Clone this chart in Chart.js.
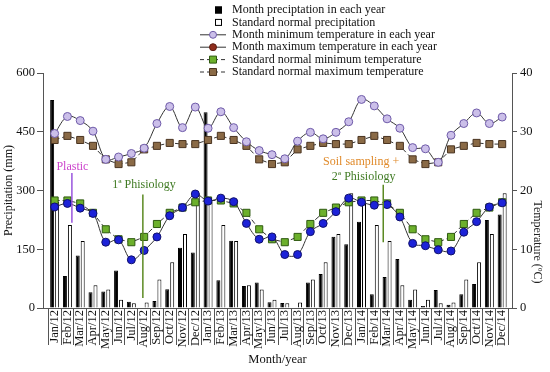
<!DOCTYPE html>
<html>
<head>
<meta charset="utf-8">
<script src="https://cdn.jsdelivr.net/npm/chart.js@4"></script>
<style>
  html, body { margin: 0; padding: 0; background: #fff; }
  #wrap { width: 550px; height: 372px; }
</style>
</head>
<body>
<div id="wrap"><canvas id="chart" width="550" height="372"></canvas></div>
<script>
// ----------------------------
// data
// ----------------------------
const months = [
  'Jan/12','Feb/12','Mar/12','Apr/12','May/12','Jun/12','Jul/12','Aug/12','Sep/12','Oct/12','Nov/12','Dec/12',
  'Jan/13','Feb/13','Mar/13','Apr/13','May/13','Jun/13','Jul/13','Aug/13','Sep/13','Oct/13','Nov/13','Dec/13',
  'Jan/14','Feb/14','Mar/14','Apr/14','May/14','Jun/14','Jul/14','Aug/14','Sep/14','Oct/14','Nov/14','Dec/14'
];

// precipitation (mm), left axis
const precipMonth = [
  531, 82, 134, 40, 42, 96, 16, 0, 18, 48, 154, 142,
  500, 71, 172, 56, 65, 15, 13, 1, 65, 87, 182, 163,
  220, 35, 79, 125, 21, 5, 46, 8, 35, 61, 225, 239
];
const precipNormal = [
  271, 212, 171, 58, 47, 21, 12, 14, 73, 117, 189, 293,
  271, 212, 171, 58, 47, 21, 12, 14, 73, 117, 189, 293,
  271, 212, 171, 58, 47, 21, 12, 14, 73, 117, 189, 293
];

// temperature (ºC), right axis
const tempMinMonth = [
  29.7, 32.6, 31.9, 30.1, 25.3, 25.7, 26.3, 27.2, 31.4, 34.3, 30.7, 34.2,
  30.6, 33.4, 30.7, 28.3, 26.8, 26.1, 25.4, 28.4, 29.9, 28.8, 29.9, 31.7,
  35.5, 34.4, 32.2, 30.6, 27.3, 27.1, 24.8, 29.4, 31.4, 33.2, 31.4, 32.5
];
const tempMaxMonth = [
  17.2, 17.8, 17.0, 16.1, 11.2, 11.6, 8.2, 9.8, 12.1, 15.7, 17.1, 19.4,
  18.2, 18.7, 18.1, 14.4, 11.7, 12.1, 9.1, 9.1, 13.0, 14.4, 16.4, 18.7,
  18.0, 17.5, 17.6, 15.5, 11.0, 10.6, 9.9, 9.7, 12.9, 14.7, 17.2, 17.9
];
const tempMinNormal = [
  18.3, 18.3, 17.8, 16.2, 13.4, 11.7, 11.2, 12.1, 14.3, 16.2, 17.1, 18.0,
  18.3, 18.3, 17.8, 16.2, 13.4, 11.7, 11.2, 12.1, 14.3, 16.2, 17.1, 18.0,
  18.3, 18.3, 17.8, 16.2, 13.4, 11.7, 11.2, 12.1, 14.3, 16.2, 17.1, 18.0
];
const tempMaxNormal = [
  28.6, 29.3, 28.6, 27.6, 25.3, 24.5, 24.8, 27.0, 27.6, 28.1, 27.9, 27.9,
  28.6, 29.3, 28.6, 27.6, 25.3, 24.5, 24.8, 27.0, 27.6, 28.1, 27.9, 27.9,
  28.6, 29.3, 28.6, 27.6, 25.3, 24.5, 24.8, 27.0, 27.6, 28.1, 27.9, 27.9
];

const precipTicks = [0, 150, 300, 450, 600];
const tempTicks = [0, 10, 20, 30, 40];

// event notes, positioned in month index / temperature units
const notes = [
  { text: 'Plastic', color: '#cc44cc', line: '#9955dd', tx: 1.39, ty: 24.0, at: 1.35, from: 23.0, to: 14.5 },
  { text: '1ª Phisiology', color: '#3f7a22', line: '#5b8a22', tx: 6.99, ty: 20.9, at: 6.9, from: 19.3, to: 1.7 },
  { text: 'Soil sampling +', color: '#e08a2a', line: null, tx: 23.97, ty: 24.9 },
  { text: '2ª Phisiology', color: '#3f7a22', line: '#5b8a22', tx: 24.17, ty: 22.3, at: 25.7, from: 21.0, to: 11.2 }
];

const FONT = "'Liberation Serif', 'Times New Roman', serif";
const pts = arr => arr.map((v, i) => ({ x: i, y: v }));

// ----------------------------
// legend drawn by hand (single column, top middle)
// ----------------------------
const legendRows = [
  { kind: 'box', fill: '#000', stroke: '#000' },
  { kind: 'box', fill: '#fff', stroke: '#000' },
  { kind: 'circle', fill: '#cbbfe9', stroke: '#6e5aa8', dash: [] },
  { kind: 'circle', fill: '#8f2d1c', stroke: '#5a1a10', dash: [] },
  { kind: 'square', fill: '#6cb02c', stroke: '#2f5a10', dash: [4, 3] },
  { kind: 'square', fill: '#8a6a46', stroke: '#4a3420', dash: [4, 3] }
];

const legendPlugin = {
  id: 'handLegend',
  afterDraw(chart) {
    const ctx = chart.ctx;
    ctx.save();
    ctx.font = '12px ' + FONT;
    ctx.textBaseline = 'middle';
    chart.data.datasets.forEach((ds, i) => {
      const st = legendRows[i];
      const y = 10 + i * 12.4;
      if (st.kind === 'box') {
        ctx.fillStyle = st.fill;
        ctx.strokeStyle = st.stroke;
        ctx.lineWidth = 1;
        ctx.fillRect(215, y - 3.5, 7, 7);
        ctx.strokeRect(215.5, y - 3, 6, 6);
      } else {
        ctx.strokeStyle = '#333';
        ctx.lineWidth = 1;
        ctx.setLineDash(st.dash);
        ctx.beginPath();
        ctx.moveTo(200, y);
        ctx.lineTo(226, y);
        ctx.stroke();
        ctx.setLineDash([]);
        ctx.fillStyle = st.fill;
        ctx.strokeStyle = st.stroke;
        ctx.beginPath();
        if (st.kind === 'circle') ctx.arc(213, y, 3.5, 0, Math.PI * 2);
        else ctx.rect(209.5, y - 3.5, 7, 7);
        ctx.fill();
        ctx.stroke();
      }
      ctx.fillStyle = '#111';
      ctx.textAlign = 'left';
      ctx.fillText(ds.label, 232, y);
    });
    ctx.restore();
  }
};

// ----------------------------
// notes + right axis title
// ----------------------------
const notesPlugin = {
  id: 'notes',
  afterDatasetsDraw(chart) {
    const ctx = chart.ctx;
    const x = chart.scales.x, t = chart.scales.y1;
    ctx.save();
    ctx.font = '12px ' + FONT;
    ctx.textAlign = 'center';
    ctx.textBaseline = 'middle';
    notes.forEach(n => {
      if (n.line) {
        const px = x.getPixelForValue(n.at);
        ctx.strokeStyle = n.line;
        ctx.lineWidth = 1.5;
        ctx.beginPath();
        ctx.moveTo(px, t.getPixelForValue(n.from));
        ctx.lineTo(px, t.getPixelForValue(n.to));
        ctx.stroke();
      }
      ctx.fillStyle = n.color;
      ctx.fillText(n.text, x.getPixelForValue(n.tx), t.getPixelForValue(n.ty));
    });
    ctx.restore();
  },
  afterDraw(chart) {
    const ctx = chart.ctx;
    ctx.save();
    ctx.font = '12px ' + FONT;
    ctx.fillStyle = '#222';
    ctx.textAlign = 'center';
    ctx.textBaseline = 'middle';
    ctx.translate(537.5, 242);
    ctx.rotate(Math.PI / 2);
    ctx.fillText('Temperature (ºC)', 0, 0);
    ctx.restore();
  }
};

// ----------------------------
// chart
// ----------------------------
const ctx = document.getElementById('chart');
new Chart(ctx, {
  data: {
    datasets: [
      {
        type: 'bar', label: 'Month preciptation in each year', data: pts(precipMonth), yAxisID: 'y',
        backgroundColor: '#000', borderColor: '#000', borderWidth: 1, order: 5,
        categoryPercentage: 0.78, barPercentage: 0.8
      },
      {
        type: 'bar', label: 'Standard normal precipitation', data: pts(precipNormal), yAxisID: 'y',
        backgroundColor: '#fff', borderColor: '#000', borderWidth: 1, order: 5,
        categoryPercentage: 0.78, barPercentage: 0.8
      },
      {
        type: 'line', label: 'Month minimum temperature in each year', data: pts(tempMinMonth), yAxisID: 'y1',
        borderColor: '#333', borderWidth: 1, tension: 0.35, order: 1,
        pointRadius: 4, pointBackgroundColor: '#cbbfe9', pointBorderColor: '#6e5aa8', pointBorderWidth: 1
      },
      {
        type: 'line', label: 'Month maximum temperature in each year', data: pts(tempMaxMonth), yAxisID: 'y1',
        borderColor: '#333', borderWidth: 1, tension: 0.35, order: 1,
        pointRadius: 4, pointBackgroundColor: '#1c22d8', pointBorderColor: '#10106a', pointBorderWidth: 1
      },
      {
        type: 'line', label: 'Standard normal minimum temperature', data: pts(tempMinNormal), yAxisID: 'y1',
        borderColor: '#333', borderWidth: 1, borderDash: [5, 3], tension: 0, order: 2,
        pointStyle: 'rect', pointRadius: 5, pointBackgroundColor: '#6cb02c', pointBorderColor: '#2f5a10', pointBorderWidth: 1
      },
      {
        type: 'line', label: 'Standard normal maximum temperature', data: pts(tempMaxNormal), yAxisID: 'y1',
        borderColor: '#333', borderWidth: 1, borderDash: [5, 3], tension: 0, order: 2,
        pointStyle: 'rect', pointRadius: 5, pointBackgroundColor: '#8a6a46', pointBorderColor: '#4a3420', pointBorderWidth: 1
      }
    ]
  },
  options: {
    responsive: false,
    animation: false,
    layout: { padding: { top: 73, left: 0, right: 0, bottom: 0 } },
    plugins: { legend: { display: false }, tooltip: { enabled: false } },
    scales: {
      x: {
        type: 'linear',
        min: -0.91,
        max: 35.77,
        offset: false,
        afterFit: s => { s.height = 64; },
        afterBuildTicks: s => { s.ticks = months.map((m, i) => ({ value: i })); },
        border: { display: true, color: '#555' },
        grid: { offset: true, drawOnChartArea: false, drawTicks: true, tickLength: 37, color: '#555' },
        ticks: {
          autoSkip: false, minRotation: 90, maxRotation: 90, padding: -35,
          color: '#111', font: { family: FONT, size: 12.5 },
          callback: v => months[v]
        },
        title: { display: true, text: 'Month/year', color: '#111', font: { family: FONT, size: 12.5 }, padding: { top: 0, bottom: 5 } }
      },
      y: {
        position: 'left',
        min: 0, max: 600,
        afterFit: s => { s.width = 43; },
        afterBuildTicks: s => { s.ticks = precipTicks.map(v => ({ value: v })); },
        border: { display: true, color: '#555' },
        grid: { drawOnChartArea: false, tickLength: 6, color: '#555' },
        ticks: { padding: 2, color: '#111', font: { family: FONT, size: 12.5 } },
        title: { display: true, text: 'Precipitation (mm)', color: '#111', font: { family: FONT, size: 12 }, padding: { top: 2, bottom: 0 } }
      },
      y1: {
        position: 'right',
        min: 0, max: 40,
        afterFit: s => { s.width = 38; },
        afterBuildTicks: s => { s.ticks = tempTicks.map(v => ({ value: v })); },
        border: { display: true, color: '#555' },
        grid: { drawOnChartArea: false, tickLength: 5, color: '#555' },
        ticks: { padding: 3, color: '#111', font: { family: FONT, size: 12.5 } }
      }
    }
  },
  plugins: [legendPlugin, notesPlugin]
});
</script>
</body>
</html>
